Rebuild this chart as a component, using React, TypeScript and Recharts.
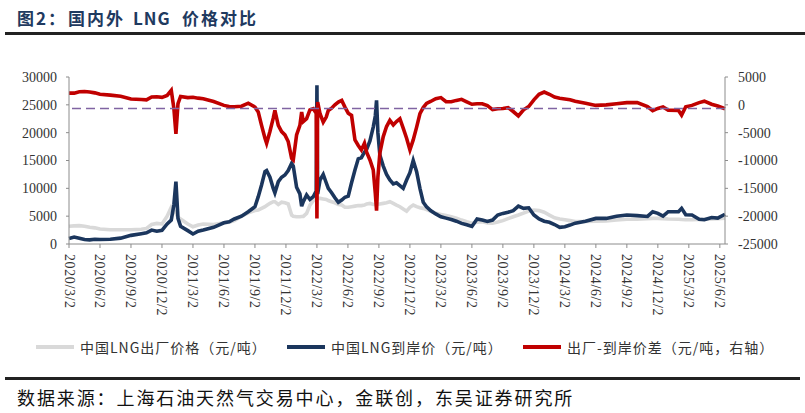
import { LineChart, Line, XAxis, YAxis, ReferenceLine } from "recharts";

// ─── Data ────────────────────────────────────────────────────────────────────

// months elapsed since 2020/3/2 for each sample
const months = [
  0, 0.5, 1, 1.5, 2, 2.5, 3, 4, 5, 6,
  7, 7.5, 8, 8.5, 9, 9.5, 9.9, 10.15, 10.35, 10.55,
  10.8, 11.5, 12, 12.5, 13, 14, 15, 15.5, 16, 16.7,
  17.35, 18, 18.32, 18.64, 18.97, 19.13, 19.45, 19.77, 19.93, 20.26,
  20.58, 20.9, 21.22, 21.55, 21.71, 22.03, 22.35, 22.52, 22.68, 23,
  23.32, 23.65, 23.93, 24, 24.07, 24.3, 24.61, 24.9, 25.1, 25.42,
  25.74, 26.07, 26.4, 26.71, 27.03, 27.35, 27.68, 28, 28.3, 28.6,
  28.81, 29.13, 29.45, 29.65, 29.77, 29.9, 30.09, 30.42, 30.74, 31.06,
  31.39, 31.7, 32.03, 32.35, 32.68, 33, 33.32, 33.65, 33.97, 34.29,
  34.61, 35, 35.5, 36, 36.5, 37, 37.5, 38, 38.5, 39,
  39.5, 40, 40.5, 41, 41.5, 42, 42.5, 43, 43.5, 44,
  44.5, 45, 45.5, 46, 46.5, 47, 47.5, 48, 48.5, 49,
  50, 51, 52, 53, 54, 55, 56, 56.5, 57, 57.5,
  58, 59, 59.3, 59.7, 60.3, 61, 61.5, 62.2, 62.8, 63.5,
];

// 中国LNG出厂价格（元/吨）
const factoryPrice = [
  3200, 3250, 3300, 3200, 3000, 2900, 2700, 2550, 2550, 2550,
  2650, 2800, 3500, 3700, 3600, 5000, 6600, 6000, 5500, 4800,
  4500, 3600, 3100, 3400, 3600, 3500, 3800, 3900, 4200, 5000,
  5600, 6000, 6100, 6400, 6700, 6900, 7300, 7600, 7600, 7100,
  7500, 7400, 7200, 5200, 5000, 4900, 4900, 4950, 4950, 5500,
  7000, 7800, 8100, 8200, 8200, 8200, 8100, 8000, 7800, 7600,
  7400, 7100, 7000, 6600, 6600, 6700, 6800, 6900, 6900, 7000,
  7200, 7300, 7100, 7100, 7100, 7150, 7200, 7300, 7400, 7600,
  7300, 7000, 6700, 6300, 5900, 6600, 7000, 6700, 6500, 6400,
  6200, 5900, 5500, 5300, 5100, 4900, 4650, 4300, 4000, 3750,
  3900, 4000, 3800, 3750, 3950, 4200, 4550, 4900, 5200, 5550,
  5900, 6100, 6000, 5700, 5200, 4700, 4500, 4350, 4200, 4050,
  4050, 4100, 4150, 4300, 4450, 4450, 4550, 4600, 4600, 4550,
  4500, 4450, 4400, 4350, 4350, 4400, 4450, 4500, 4550, 4650,
];

// 中国LNG到岸价（元/吨）
const landedPrice = [
  1000, 1250, 1050, 800, 750, 850, 800, 850, 1050, 1550,
  1850, 2000, 2500, 2300, 2450, 3600, 4300, 7000, 11200, 4600,
  3200, 2400, 1800, 2300, 2500, 3000, 3800, 4000, 4500, 5000,
  5800, 6700, 8500, 10600, 13000, 13200, 12000, 10000, 9200, 11200,
  12000, 12400, 13200, 14500, 14000, 10200, 9000, 6800, 7600, 8800,
  8000, 8500, 9500, 28500, 9000, 11500, 12500, 11000, 10000, 9200,
  8300, 7500, 7900, 8400, 8600, 11000, 13300, 15300, 15500, 16500,
  17000, 18500, 21000, 23000, 25800, 20000, 16000, 14000, 12500, 11500,
  10800, 11000, 10500, 10000, 11500, 12800, 15000, 13000, 10000, 7500,
  6700, 6000, 5400, 4900, 4650, 4400, 4100, 3700, 3450, 3150,
  4500, 4300, 4050, 4300, 5200, 5500, 5700, 6000, 6800, 6400,
  6500, 5200, 4500, 4100, 3900, 3500, 3000, 3100, 3400, 3750,
  4100, 4600, 4600, 5000, 5200, 5100, 4950, 5800, 5500, 5000,
  5800, 5800, 6400, 5250, 5200, 4450, 4350, 4750, 4650, 5350,
];

// 出厂-到岸价差（元/吨，右轴）
const spread = [
  2100, 2100, 2350, 2400, 2300, 2150, 1900, 1750, 1550, 1050,
  950, 900, 1400, 1450, 1350, 1700, 2600, -600, -5200, 200,
  1500, 1300, 1350, 1200, 1100, 600, -100, -300, -350, -250,
  300, -400, -1300, -3700, -6000, -6900, -4800, -2400, -1000, -3700,
  -4800, -5400, -6600, -9600, -9900, -5400, -3700, -1300, -3000, -2500,
  -900, -700, -1500, -20400, 500, -1600, -3100, -2200, -1000, -600,
  0, 500, 800, -400, -1500, -1900, -6300, -7300, -8100, -6900,
  -8500, -9900, -11700, -15900, -19000, -13000, -8700, -5700, -3900, -2800,
  -3600, -3000, -2500, -4200, -6000, -8100, -6300, -4000, -1600, -500,
  250, 600, 1100, 1300, 550, 550, 800, 1000, 550, 100,
  200, 200, -150, -850, -700, -650, -500, -1200, -2000, -900,
  -300, 900, 1900, 2300, 1900, 1400, 1200, 1050, 900, 650,
  300, -100, 0, 200, 400, 400, -300, -1050, -650, -400,
  -950, -1000, -1850, -350, -100, 400, 650, 100, -200, -700,
];

const SPREAD_MEAN = -650;

const tickLabels = [
  "2020/3/2", "2020/6/2", "2020/9/2", "2020/12/2",
  "2021/3/2", "2021/6/2", "2021/9/2", "2021/12/2",
  "2022/3/2", "2022/6/2", "2022/9/2", "2022/12/2",
  "2023/3/2", "2023/6/2", "2023/9/2", "2023/12/2",
  "2024/3/2", "2024/6/2", "2024/9/2", "2024/12/2",
  "2025/3/2", "2025/6/2",
];
const tickMonths = tickLabels.map((_, i) => i * 3);

const leftTicks = [0, 5000, 10000, 15000, 20000, 25000, 30000];
const rightTicks = [-25000, -20000, -15000, -10000, -5000, 0, 5000];

// ─── Styles ──────────────────────────────────────────────────────────────────

const GRAY = "#d9d9d9";
const NAVY = "#1b365d";
const RED = "#c00000";
const AXIS = "#8c8c8c";
const SERIF = "'Liberation Serif', 'Times New Roman', serif";
const CJK = "'Noto Sans CJK SC', 'Noto Sans', sans-serif";

const data = months.map((m, i) => ({
  m,
  factory: factoryPrice[i],
  landed: landedPrice[i],
  spread: spread[i],
}));

function DateTick({ x, y, payload }: any) {
  const idx = tickMonths.indexOf(payload.value);
  return (
    <text
      transform={`translate(${x},${y + 6}) rotate(90)`}
      textAnchor="start"
      dominantBaseline="central"
      fontSize={14}
      fontFamily={SERIF}
      fill="#333"
      letterSpacing={0.6}
    >
      {tickLabels[idx]}
    </text>
  );
}

function LegendItem({ left, color, label }: { left: number; color: string; label: string }) {
  return (
    <div style={{ position: "absolute", left, top: 337, height: 20, display: "flex", alignItems: "center" }}>
      <div style={{ width: 38, height: 4, background: color, marginRight: 6 }} />
      <span style={{ fontFamily: CJK, fontSize: 14, letterSpacing: 1, color: "#333", whiteSpace: "nowrap" }}>
        {label}
      </span>
    </div>
  );
}

export default function App() {
  const titleStyle = {
    position: "absolute" as const,
    top: 5,
    fontFamily: CJK,
    fontWeight: 700,
    fontSize: 17,
    color: "#1f3a60",
    letterSpacing: 2,
    whiteSpace: "nowrap" as const,
  };
  return (
    <div style={{ position: "fixed", left: 0, top: 0, width: 805, height: 413, background: "#fff", overflow: "hidden" }}>
      <span style={{ ...titleStyle, left: 17 }}>图2：</span>
      <span style={{ ...titleStyle, left: 68 }}>国内外</span>
      <span style={{ ...titleStyle, left: 133, letterSpacing: 1 }}>LNG</span>
      <span style={{ ...titleStyle, left: 182 }}>价格对比</span>
      <div style={{ position: "absolute", left: 5, top: 32, width: 800, height: 2.5, background: "#222" }} />

      <div style={{ position: "absolute", left: 0, top: 0 }}>
        <LineChart width={805} height={413} data={data} margin={{ top: 77, right: 10, bottom: 109, left: 9 }}>
          <XAxis
            dataKey="m"
            type="number"
            domain={[0, 63.5]}
            ticks={tickMonths}
            interval={0}
            height={60}
            stroke={AXIS}
            tickSize={4}
            tickMargin={0}
            tick={<DateTick />}
          />
          <YAxis
            yAxisId="left"
            orientation="left"
            domain={[0, 30000]}
            ticks={leftTicks}
            width={60}
            stroke={AXIS}
            tickSize={3}
            tickMargin={9}
            tick={{ fontSize: 14, fontFamily: SERIF, fill: "#333" }}
          />
          <YAxis
            yAxisId="right"
            orientation="right"
            domain={[-25000, 5000]}
            ticks={rightTicks}
            width={70}
            stroke={AXIS}
            tickSize={3}
            tickMargin={10}
            tick={{ fontSize: 14, fontFamily: SERIF, fill: "#333" }}
          />
          <Line
            yAxisId="left"
            dataKey="factory"
            stroke={GRAY}
            strokeWidth={3.6}
            dot={false}
            isAnimationActive={false}
          />
          <Line
            yAxisId="left"
            dataKey="landed"
            stroke={NAVY}
            strokeWidth={3.6}
            dot={false}
            isAnimationActive={false}
          />
          <Line
            yAxisId="right"
            dataKey="spread"
            stroke={RED}
            strokeWidth={3.6}
            dot={false}
            isAnimationActive={false}
          />
          <ReferenceLine
            yAxisId="right"
            y={SPREAD_MEAN}
            stroke="#8064a2"
            strokeWidth={1.6}
            strokeDasharray="9 5"
          />
        </LineChart>
      </div>

      <LegendItem left={36} color={GRAY} label="中国LNG出厂价格（元/吨）" />
      <LegendItem left={287} color={NAVY} label="中国LNG到岸价（元/吨）" />
      <LegendItem left={523} color={RED} label="出厂-到岸价差（元/吨，右轴）" />

      <div style={{ position: "absolute", left: 5, top: 377, width: 795, height: 2.5, background: "#222" }} />
      <span
        style={{
          position: "absolute",
          left: 17,
          top: 384,
          fontFamily: CJK,
          fontSize: 18,
          letterSpacing: 1.9,
          color: "#111",
          whiteSpace: "nowrap",
        }}
      >
        数据来源：上海石油天然气交易中心，金联创，东吴证券研究所
      </span>
    </div>
  );
}
